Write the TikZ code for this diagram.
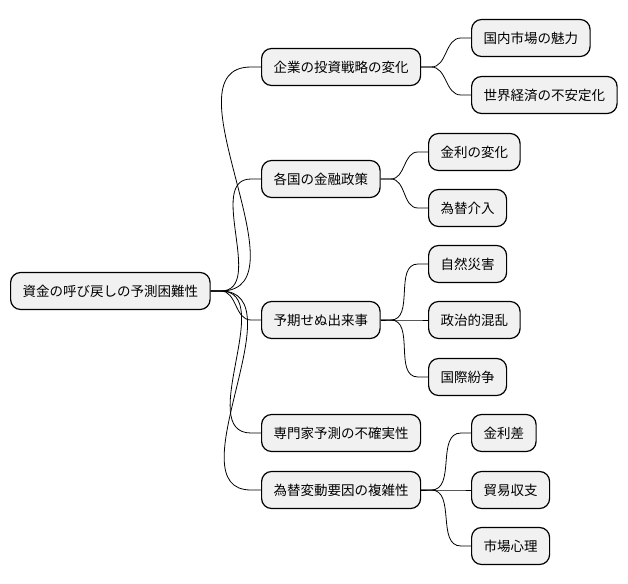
\documentclass[tikz,border=0pt]{standalone}
\usepackage{fontspec}
\setmainfont{Noto Sans CJK JP}
\usetikzlibrary{calc}

\definecolor{boxgray}{HTML}{F1F1F1}

\tikzset{
  topic/.style={draw, line width=1.2pt, rounded corners=10pt, fill=boxgray,
    anchor=west, minimum height=37pt, inner xsep=12pt, inner ysep=0pt,
    font=\fontsize{13.5}{16}\selectfont},
  branch/.style={line width=0.8pt}
}

\newcommand{\branchto}[2]{%
  \draw[branch] (#1.east) -- ++(10,0) to[out=0,in=180]
    ($(#2.west)+(-10,0)$) -- (#2.west);}

\begin{document}
\begin{tikzpicture}[x=1pt,y=-1pt]
\useasboundingbox (0,0) rectangle (628,583);

% root
\node[topic] (root) at (10,291) {資金の呼び戻しの予測困難性};

% first level
\node[topic] (strategy) at (261,67) {企業の投資戦略の変化};
\node[topic] (policy) at (261,179) {各国の金融政策};
\node[topic] (events) at (261,320) {予期せぬ出来事};
\node[topic] (experts) at (261,433) {専門家予測の不確実性};
\node[topic] (factors) at (261,490) {為替変動要因の複雑性};

% second level
\node[topic] (market) at (471,38) {国内市場の魅力};
\node[topic] (economy) at (471,95) {世界経済の不安定化};
\node[topic] (rate) at (428,152) {金利の変化};
\node[topic] (intervene) at (428,208) {為替介入};
\node[topic] (disaster) at (428,264) {自然災害};
\node[topic] (politics) at (428,320) {政治的混乱};
\node[topic] (conflict) at (428,377) {国際紛争};
\node[topic] (spread) at (471,433) {金利差};
\node[topic] (trade) at (471,490) {貿易収支};
\node[topic] (mood) at (471,546) {市場心理};

% connectors
\foreach \c in {strategy,policy,events,experts,factors}
  {\branchto{root}{\c}}
\foreach \c in {market,economy}
  {\branchto{strategy}{\c}}
\foreach \c in {rate,intervene}
  {\branchto{policy}{\c}}
\foreach \c in {disaster,politics,conflict}
  {\branchto{events}{\c}}
\foreach \c in {spread,trade,mood}
  {\branchto{factors}{\c}}

\end{tikzpicture}
\end{document}
